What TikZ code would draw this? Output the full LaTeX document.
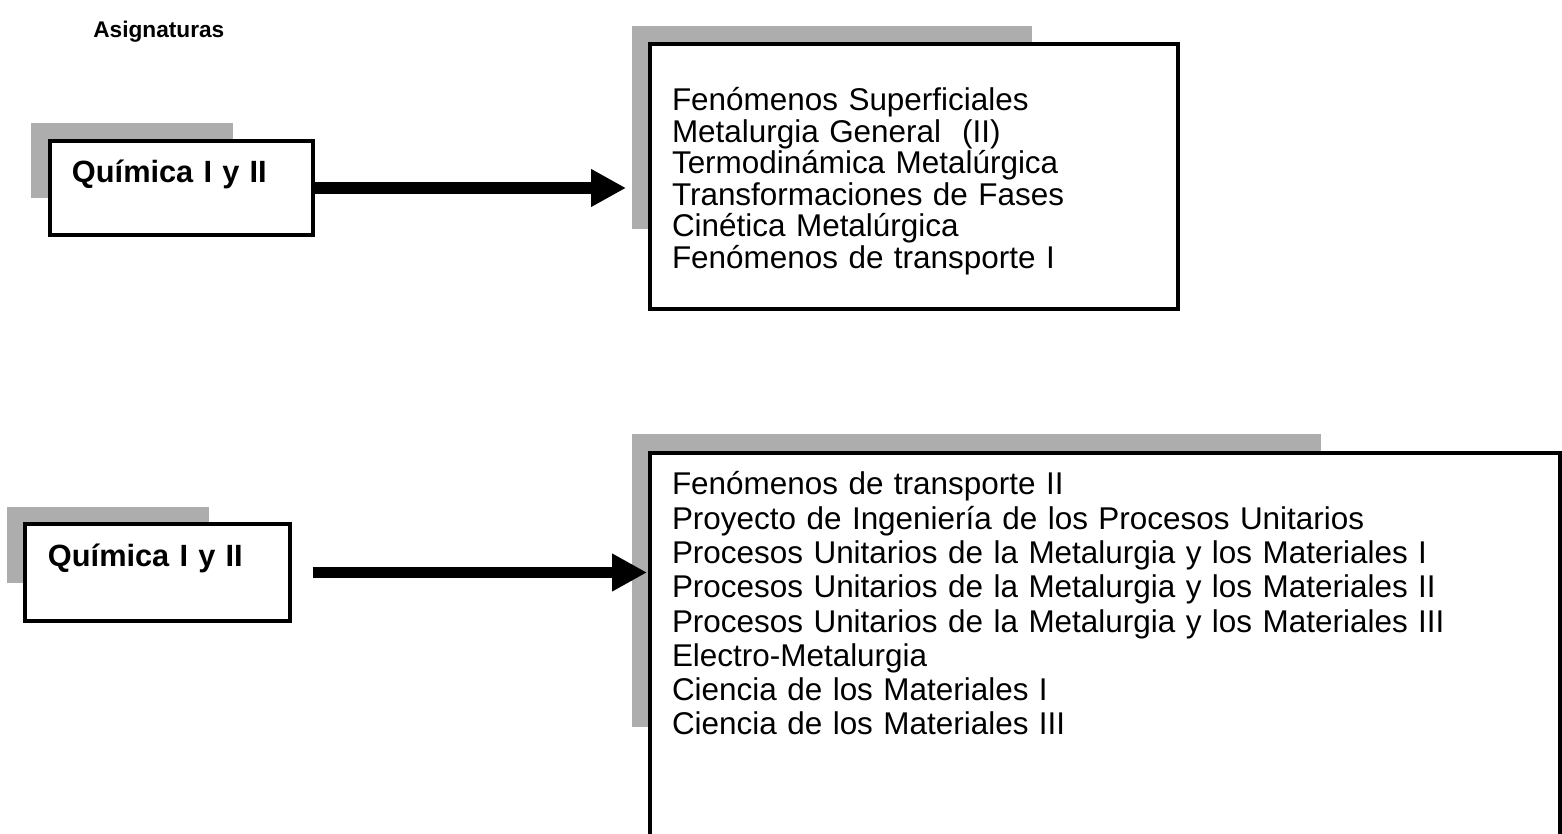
\documentclass[tikz,border=0pt]{standalone}
\usepackage{fontspec}
\setmainfont{Liberation Sans}
\usetikzlibrary{arrows.meta,positioning,calc}
\tikzset{
	course box/.style={draw, line width=0.08cm, fill=white, anchor=north west,
		align=left, inner ysep=0pt},
	shade box/.style={fill=black!32},
	link/.style={line width=0.23cm, -{Triangle[length=0.7cm,width=0.71cm]}}
}
\newcommand{\listfont}[1]{\fontsize{17.9}{#1}\selectfont}

\begin{document}
\begin{tikzpicture}[x=0.02cm, y=-0.02cm]
	\useasboundingbox (0,0) rectangle (1562,834);
	% shadows
	\fill[shade box] (31,123) rectangle (233,198);
	\fill[shade box] (7,507) rectangle (209,583);
	\fill[shade box] (632,26) rectangle (1032,229);
	\fill[shade box] (632,434) rectangle (1321,727);
	\node[anchor=base west, inner sep=0pt, font=\bfseries\fontsize{12.9}{15}\selectfont] (title) at (93,38) {Asignaturas};
	\node[course box, font=\bfseries\fontsize{17.5}{20}\selectfont, inner xsep=0.44cm,
		text width=4.38cm, text height=0.84cm, text depth=1.04cm] (qtop) at (48,139) {Química I y II};
	\node[course box, font=\bfseries\fontsize{17.5}{20}\selectfont, inner xsep=0.46cm,
		text width=4.38cm, text height=0.86cm, text depth=1.08cm] (qbot) at (23,522) {Química I y II};
	\node[course box, font=\listfont{17.9}, inner xsep=0.44cm,
		text width=9.68cm, text height=1.34cm, text depth=3.96cm] (listtop) at (648,42) {%
		Fenómenos Superficiales\\
		Metalurgia General \ (II)\\
		Termodinámica Metalúrgica\\
		Transformaciones de Fases\\
		Cinética Metalúrgica\\
		Fenómenos de transporte I};
	\node[course box, font=\listfont{19.5}, inner xsep=0.44cm,
		text width=17.32cm, text height=0.84cm, text depth=8cm] (listbot) at (648,451) {%
		Fenómenos de transporte II\\
		Proyecto de Ingeniería de los Procesos Unitarios\\
		Procesos Unitarios de la Metalurgia y los Materiales I\\
		Procesos Unitarios de la Metalurgia y los Materiales II\\
		Procesos Unitarios de la Metalurgia y los Materiales III\\
		Electro-Metalurgia\\
		Ciencia de los Materiales I\\
		Ciencia de los Materiales III};
	% arrows
	\draw[link, shorten >=0.44cm] (qtop.east) -- (qtop.east -| listtop.west);
	\draw[link, shorten <=0.42cm, shorten >=0.02cm] (qbot.east) -- (qbot.east -| listbot.west);
\end{tikzpicture}
\end{document}
